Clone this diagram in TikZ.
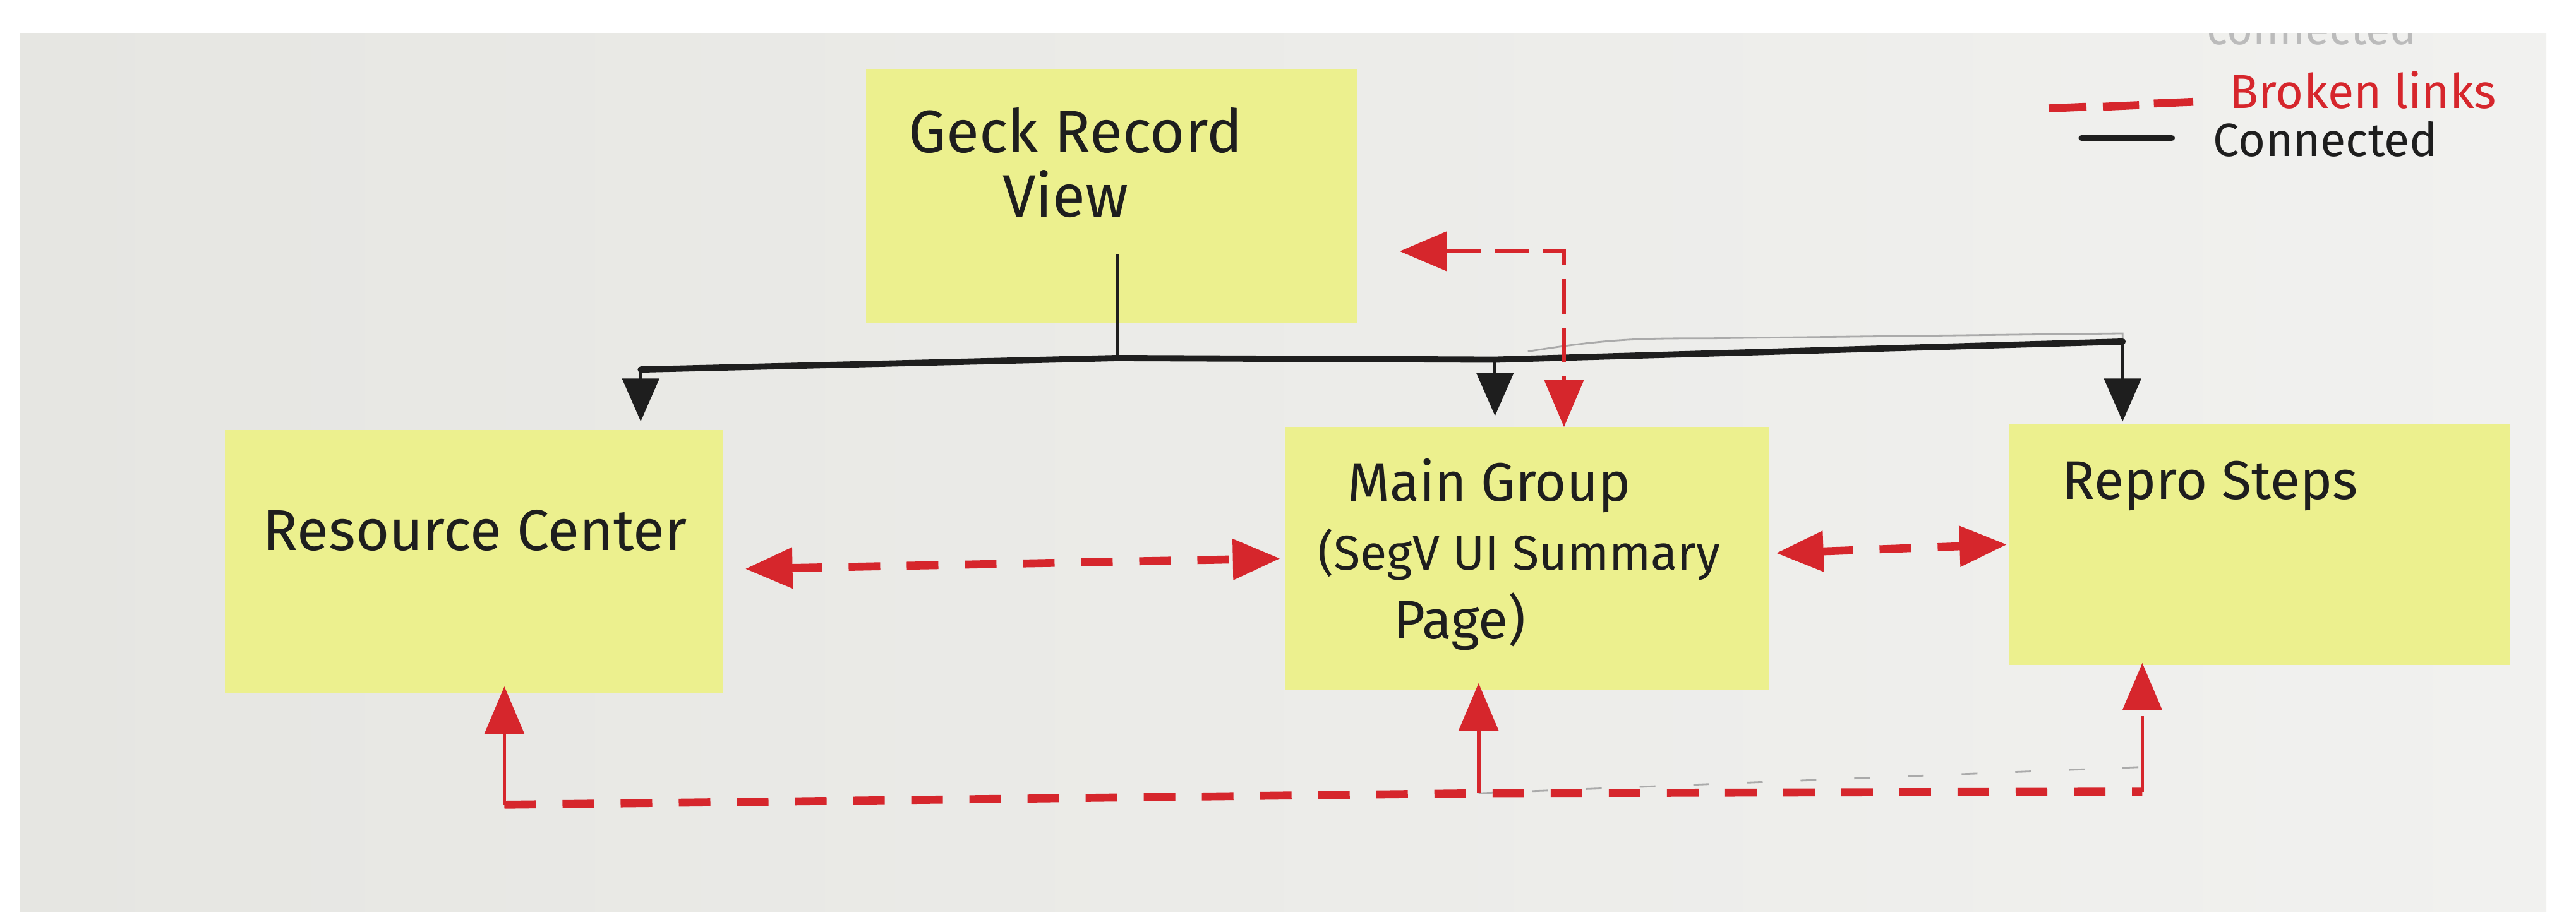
\documentclass[tikz,border=0pt]{standalone}
\usepackage{fontspec}
\setmainfont{Fira Sans}
\usetikzlibrary{arrows.meta,calc}
\definecolor{paperL}{RGB}{230,230,226}
\definecolor{paperR}{RGB}{241,241,239}
\definecolor{sticky}{RGB}{236,240,142}
\definecolor{marker}{RGB}{214,38,44}
\definecolor{ink}{RGB}{30,30,30}
\definecolor{pencil}{RGB}{170,170,170}
\begin{document}
\begin{tikzpicture}[x=0.026008cm,y=-0.026008cm,
  note/.style={fill=sticky, draw=none, inner sep=0pt, outer sep=0pt},
  hand/.style={font=\fontsize{24}{29}\selectfont, text=ink, inner sep=0pt, anchor=base west},
  wire/.style={draw=ink, line width=2.8pt, line cap=round, line join=round},
  stub/.style={draw=ink, line width=1.2pt},
  drop/.style={draw=ink, line width=1.5pt, -{Triangle[length=0.68cm,width=0.58cm]}},
  broken/.style={draw=marker, line width=3.6pt, dash pattern=on 0.5cm off 0.42cm},
  legdash/.style={draw=marker, line width=3.6pt},
  brokenthin/.style={draw=marker, line width=1.8pt, dash pattern=on 0.55cm off 0.22cm},
  riser/.style={draw=marker, line width=1.6pt, dash pattern=on 1.2cm off 0.12cm},
  redtip/.style={>={Triangle[length=0.75cm,width=0.62cm]}},
]
\useasboundingbox (0,0) rectangle (1568,561);
\fill[white] (0,0) rectangle (1568,561);
\shade[left color=paperL, right color=paperR] (12,20) rectangle (1550,555);

% faint pencil ghost text (clipped at paper edge)
\begin{scope}
\clip (12,20) rectangle (1550,555);
\node[font=\fontsize{20}{24}\selectfont, text=pencil!80, inner sep=0pt, anchor=base west] (ghost) at (1343,27) {connected};
\end{scope}

% sticky notes
\node[note, minimum width=7.776cm, minimum height=4.031cm] (geck) at (676.5,119.5) {};
\node[note, minimum width=7.880cm, minimum height=4.161cm] (res) at (288.5,342) {};
\node[note, minimum width=7.672cm, minimum height=4.161cm] (main) at (929.5,340) {};
\node[note, minimum width=7.932cm, minimum height=3.823cm] (repro) at (1375.5,331.5) {};

% texts
\node[hand, font=\fontsize{27}{32}\selectfont] (geckt1) at (553,93) {Geck Record};
\node[hand, font=\fontsize{27}{32}\selectfont] (geckt2) at (610,132) {View};
\node[hand, font=\fontsize{26}{31}\selectfont] (rest) at (160,335) {Resource Center};
\node[hand, font=\fontsize{24.5}{29}\selectfont] (maint1) at (820,305) {Main Group};
\node[hand, font=\fontsize{22}{27}\selectfont] (maint2) at (802,347) {(SegV UI Summary};
\node[hand, font=\fontsize{24.5}{29}\selectfont] (maint3) at (848,389) {Page)};
\node[hand, font=\fontsize{24.5}{29}\selectfont] (reprot) at (1255,304) {Repro Steps};

% legend
\draw[legdash] (1247,66) -- (1270,65) (1280,65) -- (1302,64) (1311,63) -- (1335,62);
\draw[wire] (1267,84) -- (1322,84);
\node[hand, text=marker, font=\fontsize{21.5}{26}\selectfont] (lgbroken) at (1357,66) {Broken links};
\node[hand, font=\fontsize{21}{25}\selectfont] (lgconn) at (1347,95) {Connected};

% black tree
\coordinate (stubtop) at (680,155);
\coordinate (busL) at (390,225);
\coordinate (busG) at (680,218);
\coordinate (busM) at (910,219);
\coordinate (busR) at (1292,208);
\draw[pencil, line width=0.8pt] (930,214) .. controls (980,206) and (1000,206) .. (1040,206) -- (1292,203) -- (busR);
\draw[stub] (stubtop) -- (busG);
\draw[wire] (busL) -- (busG) -- (busM) -- (busR);
\draw[drop, shorten >=4] (busL) -- (busL |- res.north);
\draw[drop, shorten >=5] (busM) -- (busM |- main.north);
\draw[drop, shorten >=1] (busR) -- (busR |- repro.north);

% broken link Main Group <-> Geck Record View
\coordinate (gk) at (852,153);
\coordinate (gkc) at (952,153);
\draw[brokenthin, redtip, <->] (gk) -- (gkc) -- (gkc |- main.north);

% broken links between bottom row
\draw[broken, redtip, <->, shorten <=10, shorten >=2] ([yshift=-0.12cm]res.east) -- (main.west);
\draw[broken, redtip, <->, shorten <=3, shorten >=1] ([yshift=0.08cm]main.east) -- (repro.west);

% bottom return line
\coordinate (b1) at (307,490);
\coordinate (b2) at (900,483);
\coordinate (b3) at (1304,482);
\draw[pencil, line width=0.8pt, dash pattern=on 0.25cm off 0.6cm] (b2) -- (1304,467);
\draw[broken] (b1) -- (b2) -- (b3);
\draw[riser, redtip, ->, shorten >=-3] (b1) -- (b1 |- res.south);
\draw[riser, redtip, ->, shorten >=-3] (b2) -- (b2 |- main.south);
\draw[riser, redtip, ->, shorten >=-1] (b3) -- (b3 |- repro.south);
\end{tikzpicture}
\end{document}
